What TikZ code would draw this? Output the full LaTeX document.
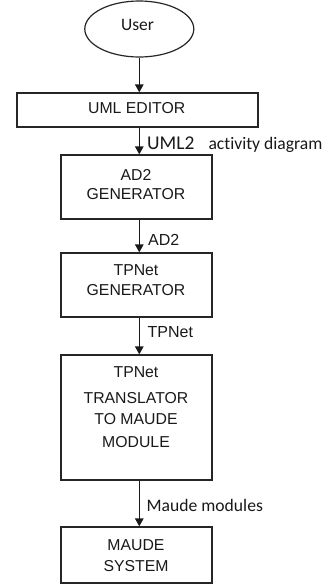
\documentclass[tikz,border=0pt]{standalone}
\usepackage{fontspec}
\usetikzlibrary{shapes.geometric,arrows.meta}
\newfontfamily\boxfont{Liberation Sans}
\newfontfamily\labfont[Ligatures=NoCommon]{Carlito}
\begin{document}
\begin{tikzpicture}[x=1pt,y=-1pt,
  boxshape/.style={draw=black!85,line width=1.3pt,rectangle,inner sep=0pt},
  boxtext/.style={anchor=base,inner sep=0pt,text=black!90,font=\boxfont\fontsize{15.8}{18}\selectfont},
  labtext/.style={anchor=base west,inner sep=0pt,text=black!90,font=\labfont\fontsize{17.6}{20}\selectfont},
  labtextb/.style={anchor=base west,inner sep=0pt,text=black!90,font=\boxfont\fontsize{16}{18}\selectfont},
  flow/.style={draw=black!90,line width=1.4pt,-{Triangle[width=8.5pt,length=8pt]}}
]
\useasboundingbox (0,0) rectangle (323,584);
% shapes
\node[draw=black!85,line width=1.2pt,ellipse,minimum width=109pt,minimum height=56pt,inner sep=0pt] (user) at (139.3,29) {};
\node[boxshape,minimum width=241pt,minimum height=34pt] (uml) at (137.5,110) {};
\node[boxshape,minimum width=151pt,minimum height=64pt] (ad2) at (136.5,187) {};
\node[boxshape,minimum width=151pt,minimum height=64pt] (tpg) at (136.5,285) {};
\node[boxshape,minimum width=151pt,minimum height=125pt] (trans) at (136.5,417.5) {};
\node[boxshape,minimum width=151pt,minimum height=56pt] (maude) at (136.5,555) {};
% texts
\node[anchor=base,inner sep=0pt,text=black!90,font=\labfont\fontsize{17.5}{20}\selectfont] (usertxt) at (137.5,30) {User};
\node[boxtext] (umltxt) at (136.7,113) {UML EDITOR};
\node[boxtext] (ad2a) at (136,180) {AD2};
\node[boxtext] (ad2b) at (136,199.5) {GENERATOR};
\node[boxtext] (tpga) at (136,275) {TPNet};
\node[boxtext] (tpgb) at (136,295) {GENERATOR};
\node[boxtext] (tra) at (136,377.5) {TPNet};
\node[boxtext] (trb) at (136,403) {TRANSLATOR};
\node[boxtext] (trc) at (136,424.5) {TO MAUDE};
\node[boxtext] (trd) at (136,447) {MODULE};
\node[boxtext] (mda) at (136,550) {MAUDE};
\node[boxtext] (mdb) at (136,571.5) {SYSTEM};
% connectors
\draw[flow] (user.south) -- (user.south |- uml.north);
\draw[flow] (user.south |- uml.south) -- (user.south |- ad2.north);
\draw[flow] (user.south |- ad2.south) -- (user.south |- tpg.north);
\draw[flow] (user.south |- tpg.south) -- (user.south |- trans.north);
\draw[flow] (user.south |- trans.south) -- (user.south |- maude.north);
% labels
\node[labtext,font=\labfont\fontsize{19.5}{20}\selectfont] (l1a) at (147,149) {UML2};
\node[labtext] (l1b) at (208.3,149) {activity diagram};
\node[labtextb] (l2) at (148,245) {AD2};
\node[labtextb] (l3) at (147.5,337) {TPNet};
\node[labtext] (l4) at (146.5,511) {Maude modules};
\end{tikzpicture}
\end{document}
